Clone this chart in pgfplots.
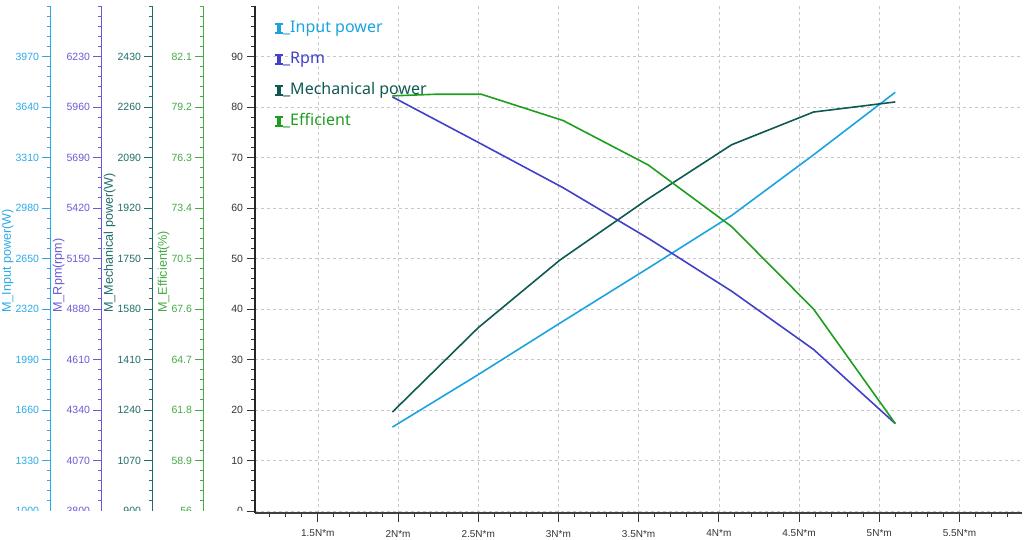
\documentclass[border=0pt]{standalone}
\usepackage{pgfplots}
\pgfplotsset{compat=1.18}
\usepackage{fontspec}
\setmainfont{Liberation Sans}
\newfontfamily\legfont{Noto Sans}
\definecolor{cin}{HTML}{1AA3E0}
\definecolor{crpm}{HTML}{4040C8}
\definecolor{cmech}{HTML}{0E5A52}
\definecolor{ceff}{HTML}{1E9E1E}
\definecolor{ainp}{HTML}{2AAAE6}
\definecolor{arpm}{HTML}{6A5AD6}
\definecolor{amech}{HTML}{1F6E68}
\definecolor{aeff}{HTML}{44AA44}

\pgfplotsset{
  base/.style={
    scale only axis, width=767pt, height=507pt,
    at={(0pt,0pt)}, anchor=south west,
    xmin=1.1085, xmax=5.89,
    /pgf/number format/assume math mode=true,
    /pgf/number format/1000 sep={},
    scaled ticks=false,
    tick align=outside,
    major tick length=8.5pt, minor tick length=4pt,
    yticklabel style={font=\fontsize{10.5}{12}\selectfont},
    xticklabel style={font=\fontsize{10}{12}\selectfont, yshift=-5pt},
  },
  scl/.style 2 args={
    base,
    axis x line=none,
    axis y line*=left,
    axis y line shift=#1,
    y axis line style={-, draw=#2, line width=1pt},
    ytick style={draw=#2, line width=0.8pt},
    yticklabel style={color=#2},
    ylabel style={font=\fontsize{12.6}{14}\selectfont, color=#2, inner sep=0.5pt,
      at={(ticklabel cs:0.394,-2pt)}, anchor=south west},
  },
}

\begin{document}
\begin{tikzpicture}
\path[use as bounding box] (-255pt,-26pt) rectangle (769pt,513pt);

% main axis: frame, grid, legend
\begin{axis}[base,
  ymin=-0.4, ymax=100,
  axis x line*=bottom, axis y line*=left,
  x axis line style={-, draw=black!75, line width=1.4pt},
  y axis line style={-, draw=black!85, line width=1.2pt},
  xtick={1.5,2,2.5,3,3.5,4,4.5,5,5.5},
  xticklabels={1.5N*m,2N*m,2.5N*m,3N*m,3.5N*m,4N*m,4.5N*m,5N*m,5.5N*m},
  minor xtick={1.2,1.3,...,5.85},
  ytick={0,10,...,90}, minor ytick={0,2,...,100},
  grid=major,
  major grid style={dash pattern=on 3pt off 3pt, draw=black!22, line width=0.6pt},
  tick style={draw=black!80, line width=0.8pt},
  ticklabel style={color=black!80},
  legend style={draw=none, fill=none, inner sep=0pt,
    at={(axis description cs:0.026,0.9724)}, anchor=north west,
    font=\legfont\fontsize{16}{18}\selectfont, row sep=14.5pt,
    nodes={inner sep=0.5pt, text height=12pt, text depth=3.5pt},
    /tikz/every even column/.append style={column sep=0pt}},
  legend cell align=left,
  legend image code/.code={
    \fill (0pt,-5.5pt) rectangle (7.5pt,-3.5pt);
    \fill (0pt,3.5pt) rectangle (7.5pt,5.5pt);
    \fill (1.5pt,-3.5pt) rectangle (6pt,3.5pt);
  },
]
\addlegendimage{draw=none, fill=cin}
\addlegendentry{\textcolor{cin}{\_Input power}}
\addlegendimage{draw=none, fill=crpm}
\addlegendentry{\textcolor{crpm}{\_Rpm}}
\addlegendimage{draw=none, fill=cmech}
\addlegendentry{\textcolor{cmech}{\_Mechanical power}}
\addlegendimage{draw=none, fill=ceff}
\addlegendentry{\textcolor{ceff}{\_Efficient}}
\end{axis}

% Input power axis
\begin{axis}[scl={204pt}{ainp},
  ymin=986.8, ymax=4300,
  ytick={1000,1330,1660,1990,2320,2650,2980,3310,3640,3970},
  minor ytick={1000,1066,...,4300},
  ylabel={M\_Input power(W)},
]
\addplot[cin, line width=1.6pt] coordinates {
 (1.965,1548) (2.5,1891) (3.03,2241) (3.56,2587) (4.08,2931) (4.59,3327) (5.1,3736)};
\end{axis}

% Rpm axis
\begin{axis}[scl={153pt}{arpm},
  ymin=3789.2, ymax=6500,
  ytick={3800,4070,4340,4610,4880,5150,5420,5690,5960,6230},
  minor ytick={3800,3854,...,6500},
  ylabel={M\_Rpm(rpm)},
]
\addplot[crpm, line width=1.6pt] coordinates {
 (1.965,6014) (2.5,5771) (3.03,5528) (3.56,5258) (4.08,4975) (4.59,4664) (5.1,4267)};
\end{axis}

% Mechanical power axis
\begin{axis}[scl={102pt}{amech},
  ymin=893.2, ymax=2600,
  ytick={900,1070,1240,1410,1580,1750,1920,2090,2260,2430},
  minor ytick={900,934,...,2600},
  ylabel={M\_Mechanical power(W)},
]
\addplot[cmech, line width=1.6pt] coordinates {
 (1.965,1233) (2.5,1517) (3.01,1745) (3.56,1951) (4.08,2133) (4.59,2243) (5.1,2277)};
\end{axis}

% Efficient axis
\begin{axis}[scl={51pt}{aeff},
  ymin=55.884, ymax=85,
  ytick={56,58.9,61.8,64.7,67.6,70.5,73.4,76.3,79.2,82.1},
  minor ytick={56,56.58,...,85},
  ylabel={M\_Efficient(\%)},
]
\addplot[ceff, line width=1.6pt] coordinates {
 (1.965,79.84) (2.23,79.93) (2.52,79.93) (3.03,78.42) (3.56,75.87) (4.08,72.33) (4.59,67.6) (5.1,61.02)};
\end{axis}

\fill[white] (-256pt,-30pt) rectangle (-10pt,2pt);
\end{tikzpicture}
\end{document}
